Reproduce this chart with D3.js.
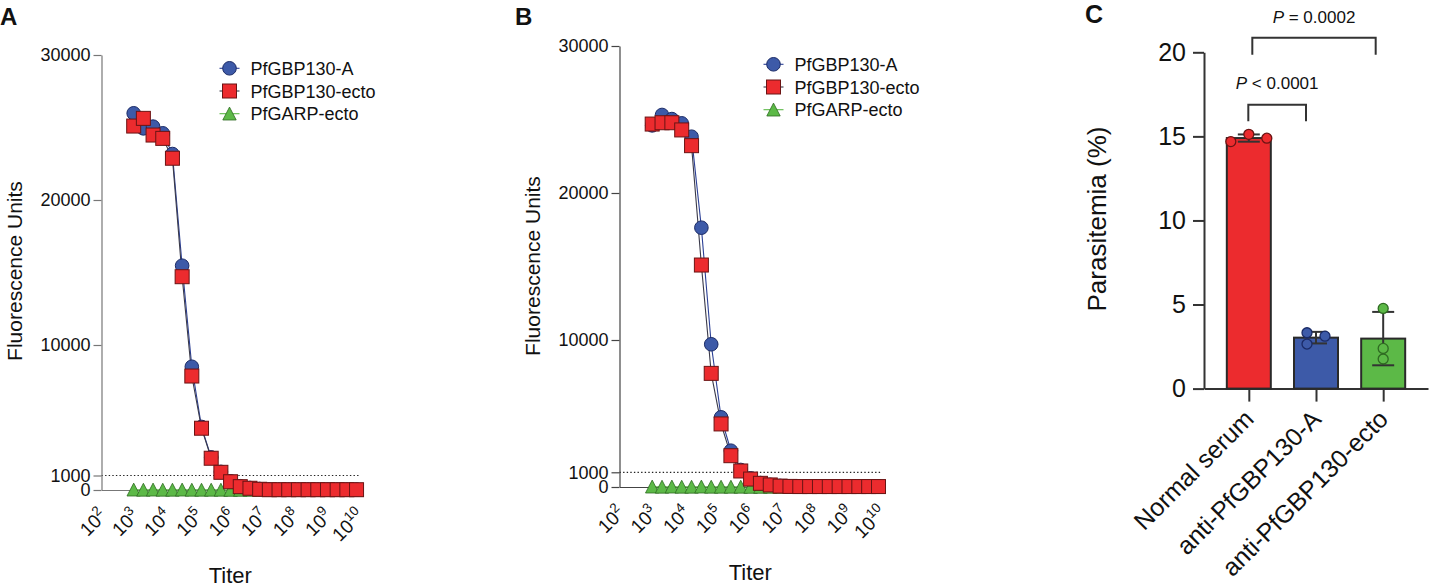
<!DOCTYPE html>
<html>
<head>
<meta charset="utf-8">
<script src="https://cdn.jsdelivr.net/npm/d3@7"></script>
<style>
  body { margin: 0; background: #fff; }
  svg text { font-family: "Liberation Sans", Arial, Helvetica, sans-serif; fill: #111; }
</style>
</head>
<body>
<div id="chart"></div>
<script>
// ---- data: panels A and B (2-fold serial dilutions, fluorescence units) ----
var titers = [1000, 2000, 4000, 8000, 16000, 32000, 64000, 128000, 256000, 512000,
  1024000, 2048000, 4096000, 8192000, 16384000, 32768000, 65536000, 131072000,
  262144000, 524288000, 1048576000, 2097152000, 4194304000, 8388608000];

var a_gbpA    = [25980, 24940, 25060, 24600, 23170, 15470, 8500, 4350, 2250, 1250, 600, 260, 140, 70, 40, 30, 30, 30, 30, 30, 30, 30, 30, 30];
var a_gbpEcto = [25100, 25630, 24480, 24250, 22880, 14710, 7860, 4260, 2190, 1220, 570, 230, 120, 50, 20, 20, 20, 20, 20, 20, 20, 20, 20, 20];
var a_garp    = [20, 10, 20, 10, 10, 20, 10, 10, 10, 10, 0, 0, 0, 0, 0, 0, 0, 0, 0, 0, 0, 0, 0, 0];

var b_gbpA    = [24600, 25310, 25030, 24740, 23830, 17640, 9710, 4740, 2470, 1160, 590, 270, 150, 80, 40, 40, 40, 40, 40, 40, 40, 40, 40, 40];
var b_gbpEcto = [24690, 24780, 24780, 24290, 23220, 15100, 7730, 4290, 2130, 1090, 540, 250, 140, 60, 40, 30, 30, 30, 30, 30, 30, 30, 30, 30];
var b_garp    = [20, 10, 20, 10, 10, 20, 10, 10, 10, 10, 0, 0, 0, 0, 0, 0, 0, 0, 0, 0, 0, 0, 0, 0];

var seriesNames = ["PfGBP130-A", "PfGBP130-ecto", "PfGARP-ecto"];
var yTicksAB = [0, 1000, 10000, 20000, 30000];
var xTickExps = [2, 3, 4, 5, 6, 7, 8, 9, 10];
var cutoff = 1000;

// ---- data: panel C (parasitemia %, three replicates) ----
var groupsC = ["Normal serum", "anti-PfGBP130-A", "anti-PfGBP130-ecto"];
var c_normal = [14.69, 15.12, 14.89];
var c_antiA = [3.32, 2.65, 3.12];
var c_antiEcto = [4.77, 2.39, 1.76];
var yTicksC = [0, 5, 10, 15, 20];
var pPairs = [[0, 1], [0, 2]];
var pLabels = ["< 0.0001", "= 0.0002"];

var blue = {fill: "#3D5AA8", stroke: "#1A2A66", line: "#2B3F95"};
var red = {fill: "#EC2B2E", stroke: "#6B1414", line: "#3A3A4A"};
var green = {fill: "#5CB947", stroke: "#2F6B22", line: "#5CB947"};

var svg = d3.select("#chart").append("svg")
    .attr("width", 1432)
    .attr("height", 587)
    .style("background", "#fff");

// marker drawing helpers
function marker(sel, kind, style) {
  if (kind === "circle") {
    sel.append("circle").attr("r", 6.8)
      .attr("fill", style.fill).attr("stroke", style.stroke).attr("stroke-width", 1);
  } else if (kind === "square") {
    sel.append("rect").attr("x", -7).attr("y", -7).attr("width", 14).attr("height", 14)
      .attr("fill", style.fill).attr("stroke", style.stroke).attr("stroke-width", 1);
  } else {
    sel.append("path").attr("d", "M0,-6.6L6.7,6.3L-6.7,6.3Z")
      .attr("fill", style.fill).attr("stroke", style.stroke).attr("stroke-width", 0.8);
  }
}

// panel A / B: titration curves
function drawCurves(opt) {
  var g = svg.append("g");
  var x = d3.scaleLog().domain([1e2, 1e10]).range(opt.xRange);
  var y = d3.scaleLinear().domain([0, 30000]).range(opt.yRange);

  // panel letter
  g.append("text")
      .attr("x", opt.letterX).attr("y", 25)
      .style("font-size", "24px").style("font-weight", "bold")
      .text(opt.letter);

  // dotted cut-off line
  g.append("line")
      .attr("x1", x(1e2)).attr("x2", x(1e10))
      .attr("y1", y(cutoff)).attr("y2", y(cutoff))
      .attr("stroke", "#222").attr("stroke-width", 1.2)
      .attr("stroke-dasharray", "1.4,2.2");

  // x axis (line at 0, rotated power-of-ten labels)
  var xAxis = g.append("g")
      .attr("transform", "translate(0," + y(0) + ")")
      .call(d3.axisBottom(x).tickValues(xTickExps.map(function(e) { return Math.pow(10, e); }))
        .tickSize(0).tickSizeOuter(0));
  xAxis.select(".domain").attr("stroke", opt.axisColor).attr("stroke-width", 1.2);
  xAxis.selectAll(".tick text").remove();
  xAxis.selectAll(".tick").each(function(d, i) {
    var t = d3.select(this).append("text")
        .attr("transform", "translate(6,27) rotate(-45)")
        .attr("text-anchor", "end")
        .style("font-size", "19px")
        .attr("fill", "#111");
    t.append("tspan").text("10");
    t.append("tspan").attr("dy", -8).style("font-size", "13.5px").text(xTickExps[i]);
  });

  // y axis
  var yAxis = g.append("g")
      .attr("transform", "translate(" + opt.xRange[0] + ",0)")
      .call(d3.axisLeft(y).tickValues(yTicksAB).tickSize(8).tickSizeOuter(0).tickPadding(3)
        .tickFormat(d3.format("d")));
  yAxis.select(".domain").attr("stroke", opt.axisColor).attr("stroke-width", 1.2);
  yAxis.selectAll(".tick line").attr("stroke", opt.axisColor).attr("stroke-width", 1.2);
  yAxis.selectAll(".tick text").style("font-size", "18px").attr("fill", "#111");

  // axis titles
  g.append("text")
      .attr("transform", "translate(" + opt.yTitleX + "," + opt.yTitleY + ") rotate(-90)")
      .attr("text-anchor", "middle")
      .style("font-size", "21px")
      .text("Fluorescence Units");
  g.append("text")
      .attr("x", (opt.xRange[0] + opt.xRange[1]) / 2)
      .attr("y", opt.xTitleY)
      .attr("text-anchor", "middle")
      .style("font-size", "22px")
      .text("Titer");

  var sets = [
    {vals: opt.garp, kind: "triangle", style: green},
    {vals: opt.gbpA, kind: "circle", style: blue},
    {vals: opt.gbpEcto, kind: "square", style: red}
  ];

  var line = d3.line()
      .x(function(d) { return x(d[0]); })
      .y(function(d) { return y(d[1]); });

  // connecting lines under the markers
  sets.forEach(function(s) {
    g.append("path")
        .datum(d3.zip(titers, s.vals))
        .attr("d", line)
        .attr("fill", "none")
        .attr("stroke", s.style.line)
        .attr("stroke-width", 1.1);
  });

  sets.forEach(function(s) {
    g.append("g").selectAll("g")
        .data(d3.zip(titers, s.vals))
        .join("g")
        .attr("transform", function(d) { return "translate(" + x(d[0]) + "," + y(d[1]) + ")"; })
        .each(function() { marker(d3.select(this), s.kind, s.style); });
  });

  // legend
  var legendItems = [
    {name: seriesNames[0], kind: "circle", style: blue},
    {name: seriesNames[1], kind: "square", style: red},
    {name: seriesNames[2], kind: "triangle", style: green}
  ];
  var lg = g.append("g").selectAll("g")
      .data(legendItems)
      .join("g")
      .attr("transform", function(d, i) { return "translate(" + opt.legendX + "," + (opt.legendY + i * 22.7) + ")"; });
  lg.append("line")
      .attr("x1", -10).attr("x2", 10)
      .attr("stroke", function(d) { return d.style.line; })
      .attr("stroke-width", 1.1);
  lg.each(function(d) { marker(d3.select(this), d.kind, d.style); });
  lg.append("text")
      .attr("x", 21).attr("y", 6.5)
      .style("font-size", "18px")
      .text(function(d) { return d.name; });
}

drawCurves({
  letter: "A", letterX: 0,
  xRange: [101.5, 359], yRange: [490, 55],
  gbpA: a_gbpA, gbpEcto: a_gbpEcto, garp: a_garp,
  axisColor: "#777",
  yTitleX: 22, yTitleY: 271, xTitleY: 583,
  legendX: 229.5, legendY: 68.3
});

drawCurves({
  letter: "B", letterX: 515,
  xRange: [619.5, 881], yRange: [487, 46],
  gbpA: b_gbpA, gbpEcto: b_gbpEcto, garp: b_garp,
  axisColor: "#444",
  yTitleX: 540, yTitleY: 266, xTitleY: 580,
  legendX: 773.5, legendY: 64.3
});

// ---- panel C: bar chart with replicate points ----
var gc = svg.append("g");
var xC = d3.scalePoint().domain(groupsC).range([1204, 1428]).padding(0.667);
var yC = d3.scaleLinear().domain([0, 20]).range([388.6, 52.3]);
var barW = 44;
var cStyles = [red, blue, green];
var cData = [c_normal, c_antiA, c_antiEcto].map(function(vals, i) {
  return {group: groupsC[i], vals: vals, mean: d3.mean(vals), sd: d3.deviation(vals), style: cStyles[i]};
});

gc.append("text")
    .attr("x", 1085).attr("y", 23)
    .style("font-size", "25px").style("font-weight", "bold")
    .text("C");

// axes
var xAxisC = gc.append("g")
    .attr("transform", "translate(0," + yC(0) + ")")
    .call(d3.axisBottom(xC).tickSize(13).tickSizeOuter(0).tickFormat(""));
xAxisC.select(".domain").attr("stroke", "#333").attr("stroke-width", 2);
xAxisC.selectAll(".tick line").attr("stroke", "#333").attr("stroke-width", 2);
xAxisC.selectAll(".tick").append("text")
    .attr("transform", "translate(6,32) rotate(-45)")
    .attr("text-anchor", "end")
    .style("font-size", "25px")
    .attr("fill", "#111")
    .text(function(d) { return d; });

var yAxisC = gc.append("g")
    .attr("transform", "translate(1204,0)")
    .call(d3.axisLeft(yC).tickValues(yTicksC).tickSize(11).tickSizeOuter(0).tickPadding(7));
yAxisC.select(".domain").attr("stroke", "#333").attr("stroke-width", 2);
yAxisC.selectAll(".tick line").attr("stroke", "#333").attr("stroke-width", 2);
yAxisC.selectAll(".tick text").style("font-size", "25px").attr("fill", "#111");

gc.append("text")
    .attr("transform", "translate(1106,219) rotate(-90)")
    .attr("text-anchor", "middle")
    .style("font-size", "26px")
    .text("Parasitemia (%)");

// bars
gc.append("g").selectAll("rect")
    .data(cData)
    .join("rect")
    .attr("x", function(d) { return xC(d.group) - barW / 2; })
    .attr("width", barW)
    .attr("y", function(d) { return yC(d.mean); })
    .attr("height", function(d) { return yC(0) - yC(d.mean); })
    .attr("fill", function(d) { return d.style.fill; })
    .attr("stroke", "#2a2a2a")
    .attr("stroke-width", 2);

// error bars (mean +/- SD)
var eb = gc.append("g").selectAll("g")
    .data(cData)
    .join("g")
    .attr("stroke", "#333")
    .attr("stroke-width", 2);
eb.append("line")
    .attr("x1", function(d) { return xC(d.group); })
    .attr("x2", function(d) { return xC(d.group); })
    .attr("y1", function(d) { return yC(d.mean - d.sd); })
    .attr("y2", function(d) { return yC(d.mean + d.sd); });
[-1, 1].forEach(function(sgn) {
  eb.append("line")
      .attr("x1", function(d) { return xC(d.group) - 11; })
      .attr("x2", function(d) { return xC(d.group) + 11; })
      .attr("y1", function(d) { return yC(d.mean + sgn * d.sd); })
      .attr("y2", function(d) { return yC(d.mean + sgn * d.sd); });
});

// scatter points, spread sideways where they would overlap
var pr = 5, step = 18;
cData.forEach(function(d) {
  var order = d.vals.map(function(v, i) { return i; })
      .sort(function(a, b) { return d.vals[b] - d.vals[a]; });
  var placed = [];
  order.forEach(function(i) {
    var py = yC(d.vals[i]);
    var cands = [0, step, -step, 2 * step, -2 * step];
    for (var k = 0; k < cands.length; k++) {
      var ok = placed.every(function(p) {
        return Math.hypot(p.dx - cands[k], p.py - py) >= 2 * pr;
      });
      if (ok) { placed.push({dx: cands[k], py: py}); break; }
    }
  });
  var mid = (d3.min(placed, function(p) { return p.dx; }) + d3.max(placed, function(p) { return p.dx; })) / 2;
  gc.append("g").selectAll("circle")
      .data(placed)
      .join("circle")
      .attr("cx", function(p) { return xC(d.group) + p.dx - mid; })
      .attr("cy", function(p) { return p.py; })
      .attr("r", pr)
      .attr("fill", d.style.fill)
      .attr("stroke", d.style.stroke)
      .attr("stroke-width", 1.3);
});

// significance brackets
var brk = [
  {x1: xC(groupsC[pPairs[0][0]]) - 0.5, x2: xC(groupsC[pPairs[0][1]]) - 10, top: 16.88, leg: 15.9, txt: 17.83},
  {x1: xC(groupsC[pPairs[1][0]]) + 3.5, x2: xC(groupsC[pPairs[1][1]]) - 7.5, top: 20.86, leg: 19.85, txt: 21.73}
];
brk.forEach(function(b, i) {
  gc.append("path")
      .attr("d", "M" + b.x1 + "," + yC(b.leg) + "V" + yC(b.top) + "H" + b.x2 + "V" + yC(b.leg))
      .attr("fill", "none")
      .attr("stroke", "#333")
      .attr("stroke-width", 2);
  var t = gc.append("text")
      .attr("x", (b.x1 + b.x2) / 2)
      .attr("y", yC(b.txt))
      .attr("text-anchor", "middle")
      .style("font-size", "17px");
  t.append("tspan").style("font-style", "italic").text("P");
  t.append("tspan").text(" " + pLabels[i]);
});
</script>
</body>
</html>
